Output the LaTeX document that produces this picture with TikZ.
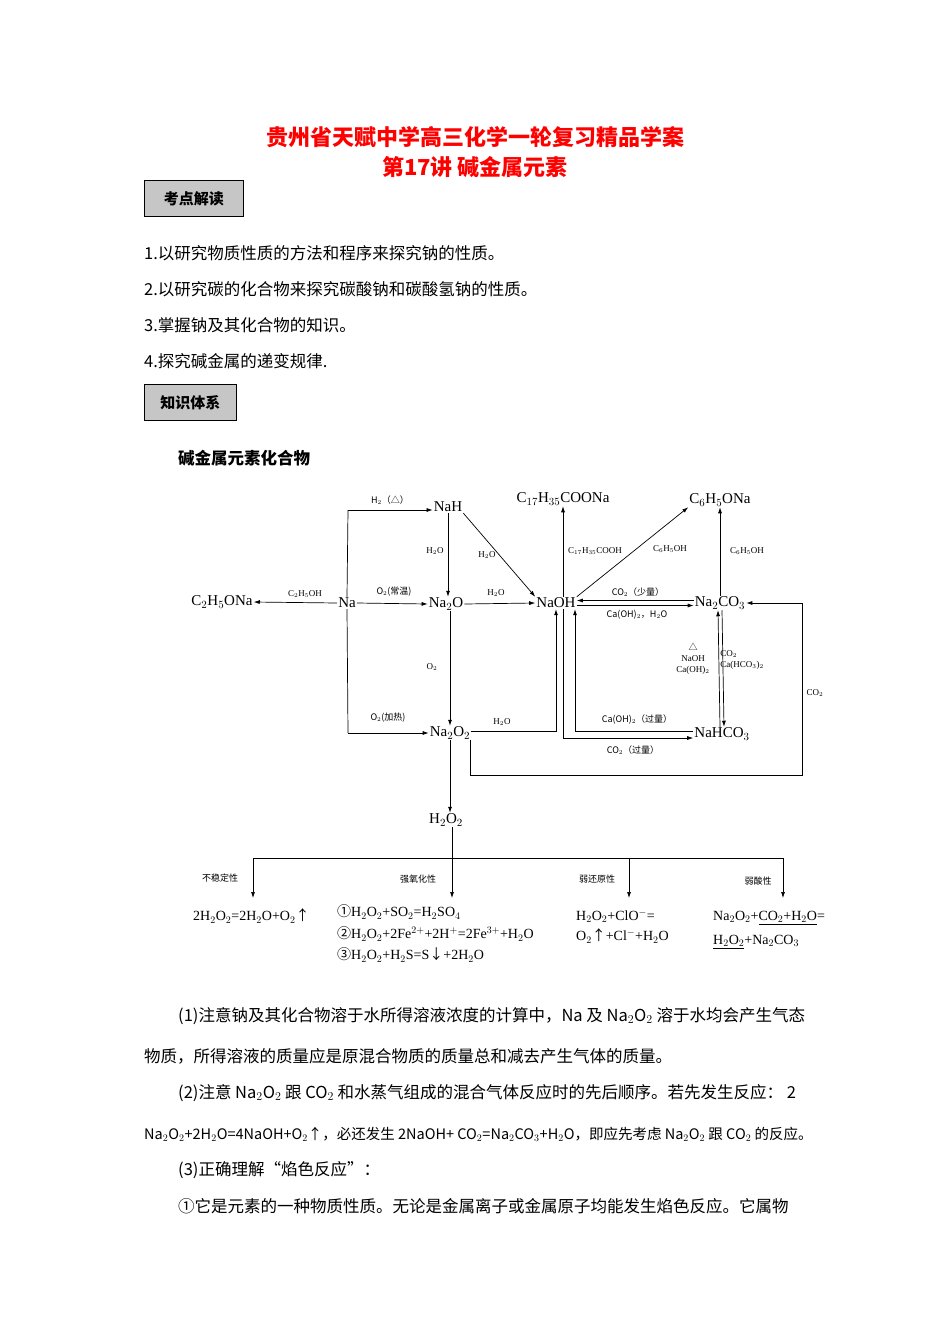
\documentclass[tikz,border=0pt]{standalone}
\usepackage{fontspec}
\setmainfont{Liberation Serif}
\newfontfamily\cjk{Noto Sans CJK SC}
\usetikzlibrary{arrows.meta}
\begin{document}
\begin{tikzpicture}[x=1pt,y=-1pt,
 chem/.style={font=\fontsize{15}{17}\selectfont, inner sep=1pt},
 lab/.style={font=\fontsize{9}{11}\selectfont, inner sep=0.5pt},
 clab/.style={font=\cjk\fontsize{9}{11}\selectfont, inner sep=0.5pt},
 arr/.style={-{Latex[length=6,width=4]}, line width=0.7},
 ln/.style={line width=0.7},
 body/.style={font=\cjk\fontsize{16.5}{18}\selectfont, anchor=west, inner sep=0},
 box/.style={draw, line width=0.8, fill=gray!45, font=\cjk\bfseries\fontsize{15}{17}\selectfont, anchor=north west, minimum height=36, inner xsep=10},
 frm/.style={font=\fontsize{14}{16}\selectfont, anchor=west, inner sep=0}]
\useasboundingbox (0,0) rectangle (950,1344);
\node[font=\cjk\bfseries\fontsize{22}{24}\selectfont, text=red] (t1) at (475,137) {贵州省天赋中学高三化学一轮复习精品学案};
\node[font=\cjk\bfseries\fontsize{22}{24}\selectfont, text=red] (t2) at (475,167) {第17讲 碱金属元素};
\node[box, minimum width=99] (b1) at (144,180) {考点解读};
\node[body] (p1) at (144,253) {1.以研究物质性质的方法和程序来探究钠的性质。};
\node[body] (p2) at (144,289) {2.以研究碳的化合物来探究碳酸钠和碳酸氢钠的性质。};
\node[body] (p3) at (144,325) {3.掌握钠及其化合物的知识。};
\node[body] (p4) at (144,361) {4.探究碱金属的递变规律.};
\node[box, minimum width=92] (b2) at (144,384) {知识体系};
\node[body, font=\cjk\bfseries\fontsize{16.5}{18}\selectfont] (st) at (178,458) {碱金属元素化合物};
% species
\node[chem] (NaH) at (448,507) {NaH};
\node[chem] (Na) at (347,603) {Na};
\node[chem] (Na2O) at (446,604) {Na$_2$O};
\node[chem] (NaOH) at (556,603) {NaOH};
\node[chem] (C2) at (222,602) {C$_2$H$_5$ONa};
\node[chem] (C17) at (563,499) {C$_{17}$H$_{35}$COONa};
\node[chem] (C6) at (720,500) {C$_6$H$_5$ONa};
\node[chem] (Na2CO3) at (720,603) {Na$_2$CO$_3$};
\node[chem] (NaHCO3) at (722,734) {NaHCO$_3$};
\node[chem] (Na2O2) at (450,733) {Na$_2$O$_2$};
\node[chem] (H2O2) at (446,820) {H$_2$O$_2$};
% Na branches
\coordinate (naT) at (348,510); \coordinate (naB) at (348,733);
\draw[ln] (Na.north) -- (naT); \draw[ln] (Na.south) -- (naB);
\draw[arr] (naT) -- (NaH.west|-naT);
\draw[arr] (naB) -- (Na2O2.west|-naB);
\node[clab] (l1) at (390,500) {H$_2$（△）};
\node[clab] (l2) at (388,718) {O$_2$(加热)};
\draw[arr] (Na.east) -- (Na2O.west);
\node[clab] (l3) at (394,592) {O$_2$(常温)};
\draw[arr] (Na.west) -- (C2.east);
\node[lab] (l4) at (305,594) {C$_2$H$_5$OH};
\draw[arr] (NaH.south) -- (Na2O.north-|NaH.south);
\node[lab] (l5) at (435,551) {H$_2$O};
\draw[arr] (NaH.south east) -- (NaOH.north west);
\node[lab] (l6) at (487,555) {H$_2$O};
\draw[arr] (Na2O.south-|Na2O2.north) -- (Na2O2.north);
\node[lab] (l7) at (432,667) {O$_2$};
\draw[arr] (Na2O.east) -- (NaOH.west);
\node[lab] (l8) at (496,593) {H$_2$O};
\coordinate (c1) at (556,731);
\draw[arr] (Na2O2.east|-c1) -- (c1) -- (NaOH.south-|c1);
\node[lab] (l9) at (502,722) {H$_2$O};
\draw[arr] (NaOH.north-|C17) -- (C17.south);
\node[lab] (l10) at (595,551) {C$_{17}$H$_{35}$COOH};
\draw[arr] (NaOH.north east) -- (C6.south west);
\node[lab] (l11) at (670,549) {C$_6$H$_5$OH};
\draw[arr] (Na2CO3.north) -- (C6.south);
\node[lab] (l12) at (747,551) {C$_6$H$_5$OH};
\draw[arr] ([yshift=-2.5]NaOH.east) -- ([yshift=-2.5]Na2CO3.west);
\draw[arr] ([yshift=2.5]Na2CO3.west) -- ([yshift=2.5]NaOH.east);
\node[clab] (l13) at (638,592) {CO$_2$（少量）};
\node[clab] (l14) at (637,615) {Ca(OH)$_2$，H$_2$O};
\draw[arr] ([xshift=-2]NaHCO3.north) -- ([xshift=-2]Na2CO3.south);
\draw[arr] ([xshift=2]Na2CO3.south) -- ([xshift=2]NaHCO3.north);
\node[lab, align=center] (l15) at (693,659) {{\cjk△}\\NaOH\\Ca(OH)$_2$};
\node[lab, align=left] (l16) at (742,660) {CO$_2$\\Ca(HCO$_3$)$_2$};
\coordinate (c2) at (563,738); \coordinate (c3) at (575,731);
\draw[arr] (NaOH.south-|c2) -- (c2) -- (NaHCO3.west|-c2);
\node[clab] (l17) at (633,750) {CO$_2$（过量）};
\draw[arr] (NaHCO3.west|-c3) -- (c3) -- (NaOH.south-|c3);
\node[clab] (l18) at (637,720) {Ca(OH)$_2$（过量）};
\coordinate (c4) at (470,775); \coordinate (c5) at (802,775); \coordinate (c6) at (802,603);
\draw[arr] (Na2O2.south-|c4) -- (c4) -- (c5) -- (c6) -- (Na2CO3.east);
\node[lab] (l19) at (815,693) {CO$_2$};
\draw[arr] (Na2O2.south) -- (H2O2.north-|Na2O2.south);
% H2O2 branches
\coordinate (h0) at (452,858); \coordinate (hL) at (253,858); \coordinate (hR) at (783,858);
\coordinate (d1) at (253,898); \coordinate (d2) at (452,898); \coordinate (d3) at (629,898); \coordinate (d4) at (783,898);
\draw[ln] (H2O2.south-|h0) -- (h0); \draw[ln] (hL) -- (hR);
\draw[arr] (hL) -- (d1); \draw[arr] (h0) -- (d2); \draw[arr] (d3|-h0) -- (d3); \draw[arr] (hR) -- (d4);
\node[clab] (m1) at (220,878) {不稳定性};
\node[clab] (m2) at (418,879) {强氧化性};
\node[clab] (m3) at (597,879) {弱还原性};
\node[clab] (m4) at (758,881) {弱酸性};
\node[frm] (f1) at (193,916) {2H$_2$O$_2$=2H$_2$O+O$_2${\cjk↑}};
\node[frm] (f2) at (337,912) {{\cjk①}H$_2$O$_2$+SO$_2$=H$_2$SO$_4$};
\node[frm] (f3) at (337,934) {{\cjk②}H$_2$O$_2$+2Fe$^{2+}$+2H$^+$=2Fe$^{3+}$+H$_2$O};
\node[frm] (f4) at (337,955) {{\cjk③}H$_2$O$_2$+H$_2$S=S{\cjk↓}+2H$_2$O};
\node[frm] (f5) at (576,916) {H$_2$O$_2$+ClO$^-$=};
\node[frm] (f6) at (576,936) {O$_2${\cjk↑}+Cl$^-$+H$_2$O};
\node[frm] (f7) at (713,918) {Na$_2$O$_2$+\underline{CO$_2$+H$_2$O}=};
\node[frm] (f8) at (713,942) {\underline{H$_2$O$_2$}+Na$_2$CO$_3$};
% paragraphs
\node[body] (q1) at (178,1016) {(1)注意钠及其化合物溶于水所得溶液浓度的计算中，Na 及 Na$_2$O$_2$ 溶于水均会产生气态};
\node[body] (q2) at (144,1056) {物质，所得溶液的质量应是原混合物质的质量总和减去产生气体的质量。};
\node[body] (q3) at (178,1093) {(2)注意 Na$_2$O$_2$ 跟 CO$_2$ 和水蒸气组成的混合气体反应时的先后顺序。若先发生反应： 2};
\node[body] (q4) at (144,1134) {\fontsize{14.5}{16}\selectfont Na$_2$O$_2$+2H$_2$O=4NaOH+O$_2$↑，必还发生 2NaOH+ CO$_2$=Na$_2$CO$_3$+H$_2$O，即应先考虑 Na$_2$O$_2$ 跟 CO$_2$ 的反应。};
\node[body] (q5) at (178,1170) {(3)正确理解“焰色反应”：};
\node[body] (q6) at (178,1206) {①它是元素的一种物质性质。无论是金属离子或金属原子均能发生焰色反应。它属物};
\end{tikzpicture}
\end{document}
